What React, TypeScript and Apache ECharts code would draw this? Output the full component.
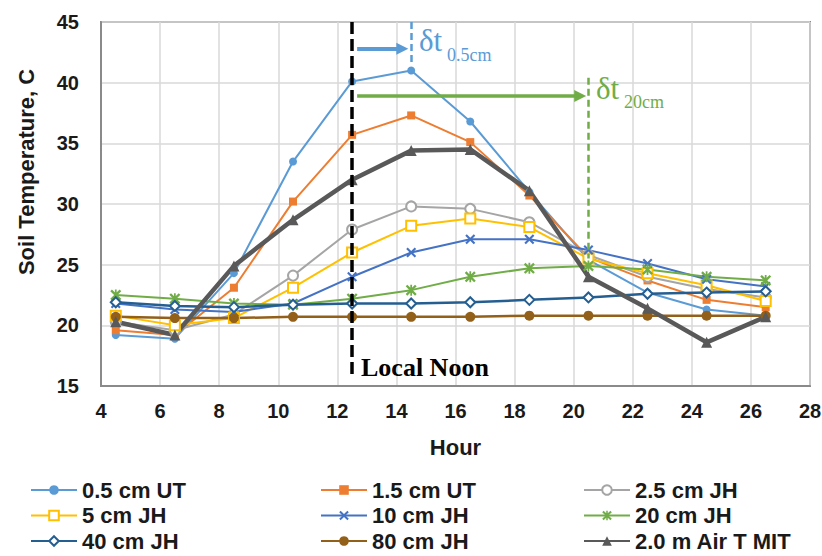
import React, { useEffect, useRef } from "react";
import * as echarts from "echarts";

// Hour of day at which each reading was taken
const hours = [4.5, 6.5, 8.5, 10.5, 12.5, 14.5, 16.5, 18.5, 20.5, 22.5, 24.5, 26.5];

// Temperatures, °C
const ut05 = [19.2, 18.9, 24.3, 33.5, 40.1, 41.0, 36.8, 31.0, 25.4, 22.7, 21.3, 20.8];
const ut15 = [19.6, 19.2, 23.1, 30.2, 35.7, 37.3, 35.1, 30.7, 25.6, 23.7, 22.1, 21.5];
const jh25 = [20.3, 19.6, 20.9, 24.1, 27.9, 29.8, 29.6, 28.5, 25.8, 24.0, 23.0, 22.3];
const jh5 = [20.8, 20.0, 20.6, 23.1, 26.0, 28.2, 28.8, 28.1, 25.5, 24.3, 23.3, 22.0];
const jh10 = [21.8, 21.3, 21.1, 21.8, 24.0, 26.0, 27.1, 27.1, 26.2, 25.1, 23.8, 23.2];
const jh20 = [22.5, 22.2, 21.8, 21.7, 22.2, 22.9, 24.0, 24.7, 24.9, 24.6, 24.0, 23.7];
const jh40 = [21.9, 21.6, 21.5, 21.7, 21.8, 21.8, 21.9, 22.1, 22.3, 22.6, 22.7, 22.8];
const jh80 = [20.7, 20.6, 20.6, 20.7, 20.7, 20.7, 20.7, 20.8, 20.8, 20.8, 20.8, 20.8];
const airMit = [20.3, 19.2, 24.9, 28.7, 32.0, 34.4, 34.5, 31.1, 24.0, 21.4, 18.6, 20.7];

const seriesNames = [
  "0.5 cm UT", "1.5 cm UT", "2.5 cm JH",
  "5 cm JH", "10 cm JH", "20 cm JH",
  "40 cm JH", "80 cm JH", "2.0 m Air T MIT",
];

// Timing annotations (hours)
const localNoon = 12.5;
const peak05 = 14.5;
const peak20 = 20.5;

const SANS = "Liberation Sans";
const SERIF = "Liberation Serif";
const TEXT = "#1a1a1a";

const CROSS =
  "path://M0,1.5L1.5,0L5,3.5L8.5,0L10,1.5L6.5,5L10,8.5L8.5,10L5,6.5L1.5,10L0,8.5L3.5,5Z";
const ASTERISK =
  "path://M0,1.5L1.5,0L5,3.5L8.5,0L10,1.5L6.5,5L10,8.5L8.5,10L5,6.5L1.5,10L0,8.5L3.5,5Z" +
  "M4.2,0L5.8,0L5.8,10L4.2,10Z";

const pairs = (vals: number[]) => hours.map((h, i) => [h, vals[i]]);

type Spec = {
  name: string;
  vals: number[];
  color: string;
  symbol: string;
  size: number;
  width: number;
  border?: number;
};

const specs: Spec[] = [
  { name: seriesNames[0], vals: ut05, color: "#5B9BD5", symbol: "circle", size: 8, width: 2 },
  { name: seriesNames[1], vals: ut15, color: "#ED7D31", symbol: "rect", size: 8, width: 2 },
  { name: seriesNames[2], vals: jh25, color: "#A5A5A5", symbol: "emptyCircle", size: 10, width: 2, border: 2 },
  { name: seriesNames[3], vals: jh5, color: "#FFC000", symbol: "emptyRect", size: 10, width: 2, border: 2 },
  { name: seriesNames[4], vals: jh10, color: "#4472C4", symbol: CROSS, size: 10, width: 2 },
  { name: seriesNames[5], vals: jh20, color: "#70AD47", symbol: ASTERISK, size: 11, width: 2 },
  { name: seriesNames[6], vals: jh40, color: "#255E91", symbol: "emptyDiamond", size: 10, width: 2.5, border: 1.5 },
  { name: seriesNames[7], vals: jh80, color: "#93601A", symbol: "circle", size: 10, width: 2.5 },
  { name: seriesNames[8], vals: airMit, color: "#595959", symbol: "triangle", size: 11, width: 4.5 },
];

function buildOption() {
  const dataSeries = specs.map((s) => ({
    type: "line",
    name: s.name,
    data: pairs(s.vals),
    symbol: s.symbol,
    symbolSize: s.size,
    showSymbol: true,
    z: 3,
    lineStyle: { color: s.color, width: s.width },
    itemStyle: {
      color: s.color,
      borderColor: s.color,
      borderWidth: s.border ?? 0,
    },
  }));

  const annot = (
    id: string,
    from: number[],
    to: number[],
    color: string,
    width: number,
    type: any,
    arrow: boolean
  ) => ({
    type: "line",
    name: id,
    data: [],
    silent: true,
    z: 6,
    markLine: {
      silent: true,
      animation: false,
      symbol: arrow ? ["none", "triangle"] : ["none", "none"],
      symbolSize: 12,
      label: { show: false },
      lineStyle: { color, width, type, opacity: 1 },
      emphasis: { disabled: true },
      data: [[{ coord: from }, { coord: to }]],
    },
  });

  const annotations = [
    annot("noon", [localNoon, 45], [localNoon, 15.6], "#000000", 3.5, [12, 5], false),
    annot("peak05", [peak05, 45], [peak05, 41.7], "#5B9BD5", 2.5, [7, 4], false),
    annot("lag05", [localNoon + 0.17, 42.8], [peak05 - 0.3, 42.8], "#5B9BD5", 4, "solid", true),
    annot("peak20", [peak20, 40.4], [peak20, 25.5], "#70AD47", 2.5, [7, 4], false),
    annot("lag20", [localNoon + 0.17, 38.9], [peak20 - 0.28, 38.9], "#70AD47", 3.5, "solid", true),
  ];

  const legendBase = {
    orient: "vertical",
    top: 479,
    padding: 0,
    itemWidth: 46,
    itemHeight: 12,
    itemGap: 3.5,
    textStyle: {
      fontFamily: SANS,
      fontSize: 22,
      fontWeight: "bold",
      color: TEXT,
      lineHeight: 22,
    },
    selectedMode: false,
  };

  const label = (text: string, left: number, top: number, size: number, color: string, bold = false) => ({
    type: "text",
    left,
    top,
    z: 10,
    style: {
      text,
      fontFamily: SERIF,
      fontSize: size,
      fontWeight: bold ? "bold" : "normal",
      fill: color,
    },
  });

  return {
    animation: false,
    backgroundColor: "#ffffff",
    grid: {
      left: 101,
      right: 12,
      top: 22,
      bottom: 170,
      show: true,
      borderColor: "#8a8a8a",
      borderWidth: 2,
      outerBoundsMode: "none",
    },
    xAxis: {
      type: "value",
      min: 4,
      max: 28,
      interval: 2,
      name: "Hour",
      nameLocation: "middle",
      nameGap: 50,
      nameTextStyle: { fontFamily: SANS, fontSize: 22, fontWeight: "bold", color: TEXT },
      axisLine: { show: true, lineStyle: { color: "#8a8a8a", width: 2 } },
      axisTick: { show: false },
      axisLabel: { margin: 15, fontFamily: SANS, fontSize: 20, fontWeight: "bold", color: TEXT },
      splitLine: { show: true, lineStyle: { color: "#d9d9d9", width: 1.5 } },
    },
    yAxis: {
      type: "value",
      min: 15,
      max: 45,
      interval: 5,
      axisLine: { show: true, lineStyle: { color: "#8a8a8a", width: 2 } },
      axisTick: { show: false },
      axisLabel: { margin: 22, fontFamily: SANS, fontSize: 20, fontWeight: "bold", color: TEXT },
      splitLine: { show: true, lineStyle: { color: "#d9d9d9", width: 1.5 } },
    },
    legend: [
      { ...legendBase, left: 30, data: [seriesNames[0], seriesNames[3], seriesNames[6]] },
      { ...legendBase, left: 320, data: [seriesNames[1], seriesNames[4], seriesNames[7]] },
      { ...legendBase, left: 583, data: [seriesNames[2], seriesNames[5], seriesNames[8]] },
    ],
    graphic: [
      {
        type: "text",
        x: 26,
        y: 172,
        rotation: Math.PI / 2,
        z: 10,
        style: {
          text: "Soil Temperature, C",
          fontFamily: SANS,
          fontSize: 22,
          fontWeight: "bold",
          fill: TEXT,
          align: "center",
          verticalAlign: "middle",
        },
      },
      label("δt", 419, 25, 31, "#5B9BD5"),
      label("0.5cm", 447, 46, 18, "#5B9BD5"),
      label("δt", 596, 73, 31, "#70AD47"),
      label("20cm", 624, 93, 18, "#70AD47"),
      label("Local Noon", 361, 354, 26, "#000000", true),
    ],
    series: [...dataSeries, ...annotations],
  };
}

export default function App() {
  const ref = useRef<HTMLDivElement>(null);

  useEffect(() => {
    if (!ref.current) return;
    const chart = echarts.init(ref.current, null, { renderer: "svg" });
    chart.setOption(buildOption() as any);
    return () => chart.dispose();
  }, []);

  return (
    <div
      ref={ref}
      style={{
        position: "fixed",
        left: 0,
        top: 0,
        width: 822,
        height: 556,
        background: "#ffffff",
      }}
    />
  );
}
